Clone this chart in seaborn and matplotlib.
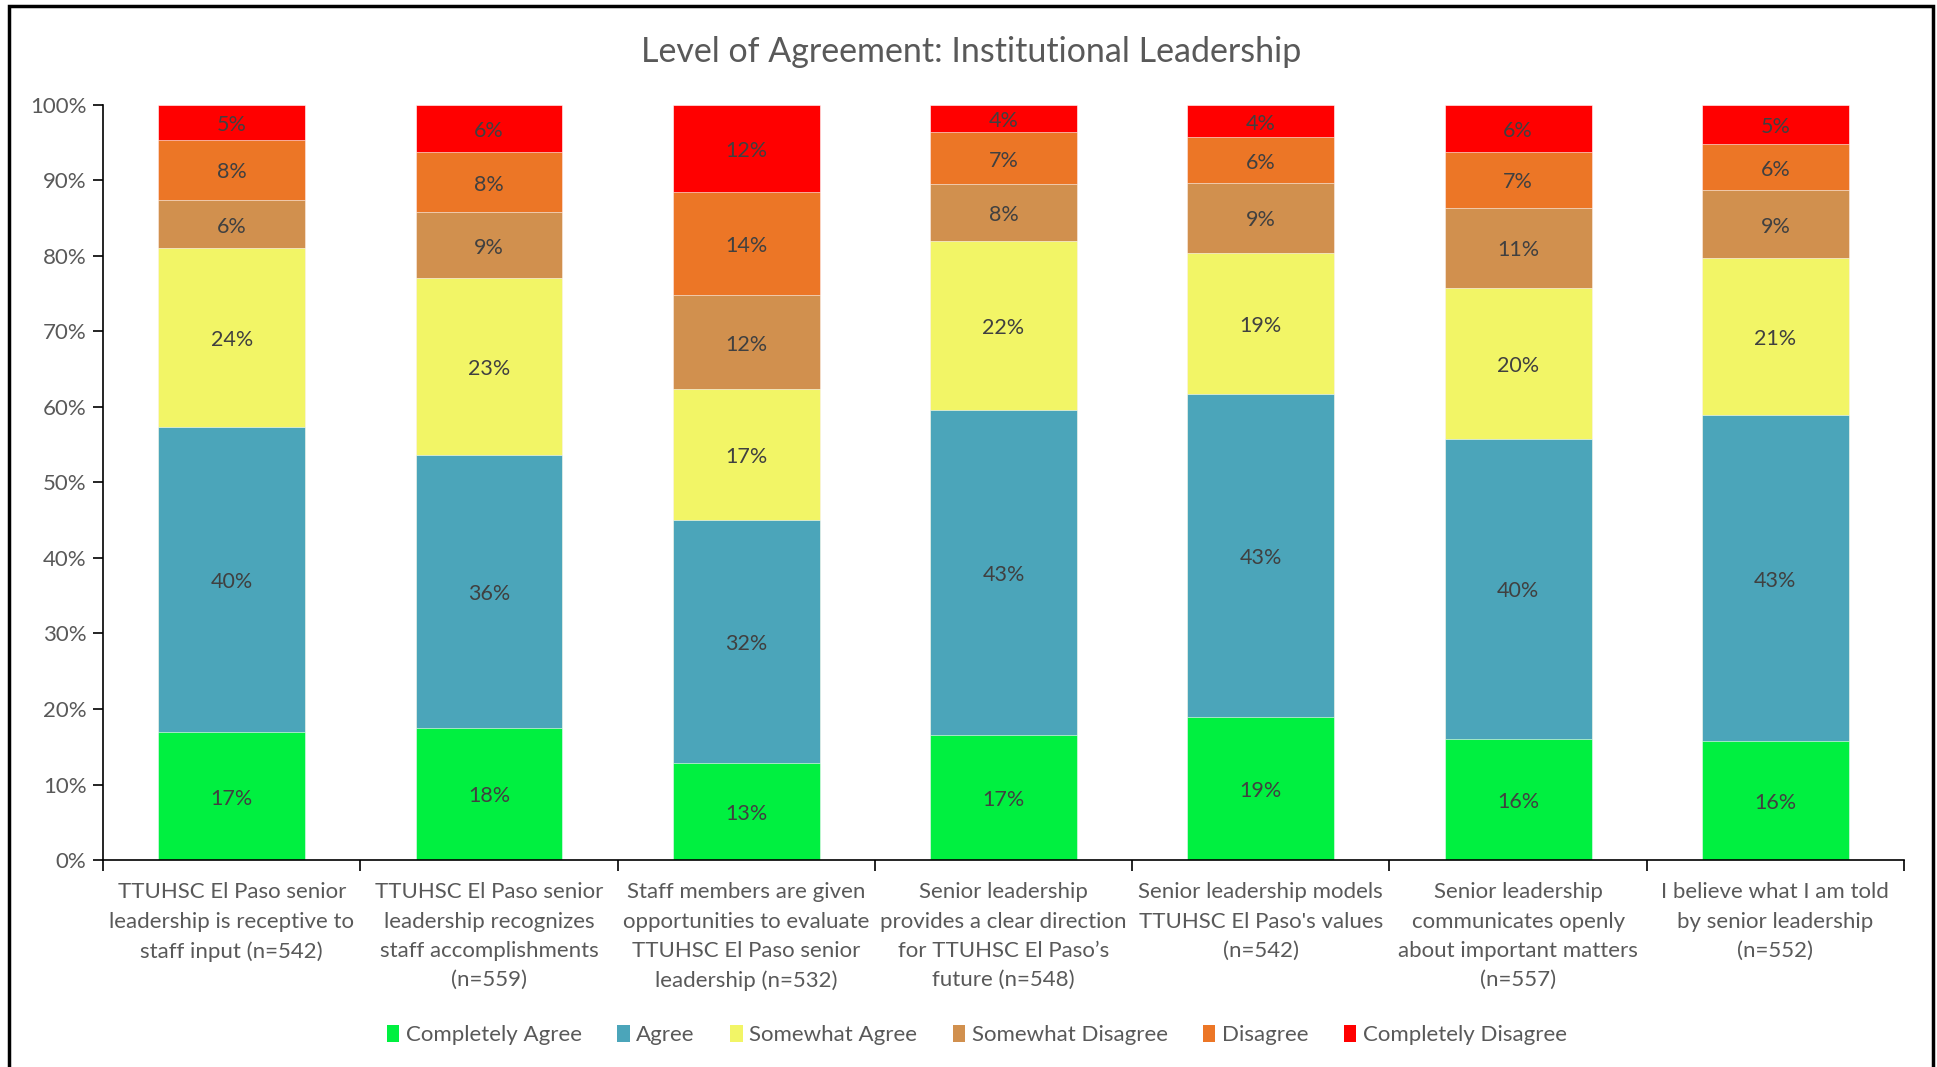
import numpy as np
import pandas as pd
import matplotlib
matplotlib.use("Agg")
import matplotlib.pyplot as plt
import seaborn as sns
from matplotlib.patches import Rectangle, Patch
from matplotlib.transforms import ScaledTranslation

categories = [
    "TTUHSC El Paso senior\nleadership is receptive to\nstaff input (n=542)",
    "TTUHSC El Paso senior\nleadership recognizes\nstaff accomplishments\n(n=559)",
    "Staff members are given\nopportunities to evaluate\nTTUHSC El Paso senior\nleadership (n=532)",
    "Senior leadership\nprovides a clear direction\nfor TTUHSC El Paso\u2019s\nfuture (n=548)",
    "Senior leadership models\nTTUHSC El Paso's values\n(n=542)",
    "Senior leadership\ncommunicates openly\nabout important matters\n(n=557)",
    "I believe what I am told\nby senior leadership\n(n=552)",
]
series_names = ["Completely Agree", "Agree", "Somewhat Agree",
                "Somewhat Disagree", "Disagree", "Completely Disagree"]
completely_agree = [16.9, 17.5, 12.9, 16.6, 19.0, 16.0, 15.7]
agree = [40.4, 36.2, 32.1, 43.0, 42.7, 39.8, 43.2]
somewhat_agree = [23.7, 23.4, 17.4, 22.4, 18.7, 20.0, 20.8]
somewhat_disagree = [6.4, 8.7, 12.4, 7.5, 9.3, 10.6, 9.0]
disagree = [8.0, 8.0, 13.7, 6.9, 6.0, 7.4, 6.1]
completely_disagree = [4.6, 6.2, 11.5, 3.6, 4.3, 6.2, 5.2]
colors = ["#00F040", "#4BA5BA", "#F2F566", "#D1904E", "#EC7626", "#FF0000"]

series = [completely_agree, agree, somewhat_agree, somewhat_disagree,
          disagree, completely_disagree]

sns.set_theme(style="white")
plt.rcParams["font.family"] = ["Lato", "DejaVu Sans"]

fig = plt.figure(figsize=(19.37, 10.67), dpi=100)
ax = fig.add_axes([0.0532, 0.194, 0.9298, 0.7076])

vals = np.array(series)
cum = np.cumsum(vals, axis=0)
xpos = np.arange(len(categories))

# draw cumulative bars from top layer downwards
for k in range(len(series) - 1, -1, -1):
    df = pd.DataFrame({"cat": categories, "val": cum[k] / 100.0})
    sns.barplot(data=df, x="cat", y="val", order=categories, color=colors[k],
                width=0.571, saturation=1, ax=ax, edgecolor="white",
                linewidth=0.4)

# data labels
shift = ax.transData + ScaledTranslation(0, -2.5 / 100, fig.dpi_scale_trans)
for k in range(len(series)):
    for i in range(len(categories)):
        v = vals[k, i]
        yc = (cum[k, i] - v / 2) / 100.0
        ax.text(xpos[i], yc, f"{v:.0f}%", ha="center", va="center",
                fontsize=15.5, color="#404040", transform=shift)

ax.set_ylim(0, 1)
ax.set_xlim(-0.5, len(categories) - 0.5)
ax.set_yticks(np.arange(0, 1.01, 0.1))
ax.set_yticklabels([f"{int(round(t*100))}%" for t in np.arange(0, 1.01, 0.1)],
                   fontsize=16, color="#595959")
ax.set_xticks(xpos)
ax.set_xticklabels(categories, fontsize=16, color="#595959", linespacing=1.58)
ax.set_xticks(np.arange(-0.5, len(categories), 1.0), minor=True)
ax.tick_params(axis="x", which="major", length=0, pad=16)
ax.tick_params(axis="x", which="minor", length=8, width=1.2, color="black",
               bottom=True)
ax.tick_params(axis="y", which="major", length=7, width=1.2, color="black",
               left=True, pad=5)
ax.set_xlabel("")
ax.set_ylabel("")
for s in ["top", "right"]:
    ax.spines[s].set_visible(False)
for s in ["left", "bottom"]:
    ax.spines[s].set_visible(True)
    ax.spines[s].set_color("black")
    ax.spines[s].set_linewidth(1.2)
ax.grid(False)

fig.text(0.5015, 1 - 52 / 1067, "Level of Agreement: Institutional Leadership",
         ha="center", va="center", fontsize=24.5, color="#595959")

handles = [Patch(facecolor=c, edgecolor="none") for c in colors]
fig.legend(handles, series_names, loc="center", ncol=6,
           bbox_to_anchor=(977 / 1937, 1 - 1035 / 1067), frameon=False,
           fontsize=16, handlelength=0.55, handleheight=0.85, handletextpad=0.3,
           columnspacing=1.6, labelcolor="#595959")

fig.patches.append(Rectangle((9 / 1937, -0.02), (1933 - 9) / 1937,
                             1.02 - 6 / 1067, transform=fig.transFigure,
                             fill=False, edgecolor="black", linewidth=2.5))

fig.savefig("out.png", dpi=100)
